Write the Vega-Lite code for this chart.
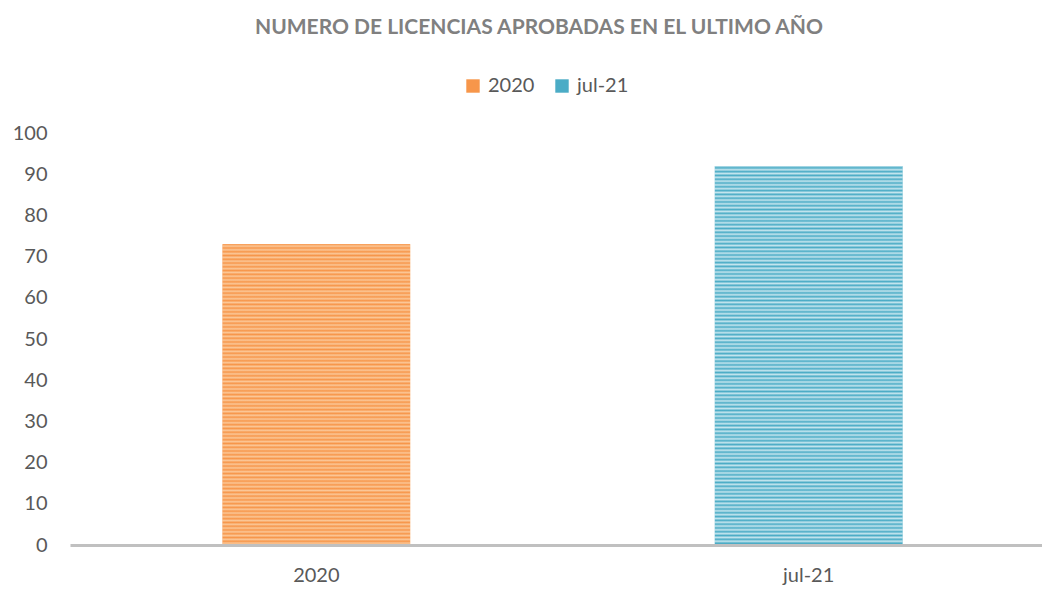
{
  "$schema": "https://vega.github.io/schema/vega-lite/v6.json",
  "width": 972,
  "height": 412,
  "autosize": "none",
  "padding": {"left": 70, "top": 133, "right": 0, "bottom": 44},
  "background": "white",
  "config": {"view": {"stroke": null}, "font": "Lato"},
  "title": {
    "text": "NUMERO DE LICENCIAS APROBADAS EN EL ULTIMO AÑO",
    "font": "Lato",
    "fontSize": 21,
    "fontWeight": "bold",
    "color": "#808080",
    "anchor": "middle",
    "frame": "group",
    "offset": 38,
    "dx": -17
  },
  "data": {"values": [
    {"periodo": "2020", "licencias": 73},
    {"periodo": "jul-21", "licencias": 92}
  ]},
  "encoding": {
    "x": {
      "field": "periodo",
      "type": "nominal",
      "sort": null,
      "scale": {"range": [0, 985], "paddingInner": 0.619, "paddingOuter": 0.31},
      "axis": {
        "title": null,
        "labelAngle": 0,
        "labelFont": "Lato",
        "labelFontSize": 20,
        "labelColor": "#595959",
        "domainColor": "#c0c0c0",
        "domainWidth": 3,
        "ticks": false,
        "labelPadding": 20,
        "zindex": 1
      }
    },
    "y": {
      "field": "licencias",
      "type": "quantitative",
      "scale": {"domain": [0, 100]},
      "axis": {
        "title": null,
        "values": [0, 10, 20, 30, 40, 50, 60, 70, 80, 90, 100],
        "grid": false,
        "domain": false,
        "ticks": false,
        "labelPadding": 23,
        "labelFont": "Lato",
        "labelFontSize": 20,
        "labelColor": "#595959"
      }
    }
  },
  "layer": [
    {
      "mark": {"type": "bar"},
      "encoding": {
        "color": {
          "field": "periodo",
          "type": "nominal",
          "scale": {"domain": ["2020", "jul-21"], "range": ["#f7964a", "#4bacc6"]},
          "legend": {
            "title": null,
            "orient": "none",
            "legendX": 393,
            "legendY": -57,
            "direction": "horizontal",
            "symbolType": "square",
            "symbolSize": 180,
            "symbolStrokeWidth": 0,
            "labelFont": "Lato",
            "labelFontSize": 20,
            "labelColor": "#595959",
            "labelOffset": 5,
            "columnPadding": 17
          }
        }
      }
    },
    {
      "transform": [{"filter": "datum.periodo === '2020'"}],
      "mark": {"type": "bar", "fill": {"gradient": "linear", "x1": 0, "y1": 0, "x2": 0, "y2": 1, "stops": [
{"offset":0,"color":"#f7964a"},{"offset":0.00625,"color":"#fbc797"},{"offset":0.0125,"color":"#f7964a"},{"offset":0.01875,"color":"#fbc797"},{"offset":0.025,"color":"#f7964a"},{"offset":0.03125,"color":"#fbc797"},{"offset":0.0375,"color":"#f7964a"},{"offset":0.04375,"color":"#fbc797"},{"offset":0.05,"color":"#f7964a"},{"offset":0.05625,"color":"#fbc797"},{"offset":0.0625,"color":"#f7964a"},{"offset":0.06875,"color":"#fbc797"},{"offset":0.075,"color":"#f7964a"},{"offset":0.08125,"color":"#fbc797"},{"offset":0.0875,"color":"#f7964a"},{"offset":0.09375,"color":"#fbc797"},
{"offset":0.1,"color":"#f7964a"},{"offset":0.10625,"color":"#fbc797"},{"offset":0.1125,"color":"#f7964a"},{"offset":0.11875,"color":"#fbc797"},{"offset":0.125,"color":"#f7964a"},{"offset":0.13125,"color":"#fbc797"},{"offset":0.1375,"color":"#f7964a"},{"offset":0.14375,"color":"#fbc797"},{"offset":0.15,"color":"#f7964a"},{"offset":0.15625,"color":"#fbc797"},{"offset":0.1625,"color":"#f7964a"},{"offset":0.16875,"color":"#fbc797"},{"offset":0.175,"color":"#f7964a"},{"offset":0.18125,"color":"#fbc797"},{"offset":0.1875,"color":"#f7964a"},{"offset":0.19375,"color":"#fbc797"},
{"offset":0.2,"color":"#f7964a"},{"offset":0.20625,"color":"#fbc797"},{"offset":0.2125,"color":"#f7964a"},{"offset":0.21875,"color":"#fbc797"},{"offset":0.225,"color":"#f7964a"},{"offset":0.23125,"color":"#fbc797"},{"offset":0.2375,"color":"#f7964a"},{"offset":0.24375,"color":"#fbc797"},{"offset":0.25,"color":"#f7964a"},{"offset":0.25625,"color":"#fbc797"},{"offset":0.2625,"color":"#f7964a"},{"offset":0.26875,"color":"#fbc797"},{"offset":0.275,"color":"#f7964a"},{"offset":0.28125,"color":"#fbc797"},{"offset":0.2875,"color":"#f7964a"},{"offset":0.29375,"color":"#fbc797"},
{"offset":0.3,"color":"#f7964a"},{"offset":0.30625,"color":"#fbc797"},{"offset":0.3125,"color":"#f7964a"},{"offset":0.31875,"color":"#fbc797"},{"offset":0.325,"color":"#f7964a"},{"offset":0.33125,"color":"#fbc797"},{"offset":0.3375,"color":"#f7964a"},{"offset":0.34375,"color":"#fbc797"},{"offset":0.35,"color":"#f7964a"},{"offset":0.35625,"color":"#fbc797"},{"offset":0.3625,"color":"#f7964a"},{"offset":0.36875,"color":"#fbc797"},{"offset":0.375,"color":"#f7964a"},{"offset":0.38125,"color":"#fbc797"},{"offset":0.3875,"color":"#f7964a"},{"offset":0.39375,"color":"#fbc797"},
{"offset":0.4,"color":"#f7964a"},{"offset":0.40625,"color":"#fbc797"},{"offset":0.4125,"color":"#f7964a"},{"offset":0.41875,"color":"#fbc797"},{"offset":0.425,"color":"#f7964a"},{"offset":0.43125,"color":"#fbc797"},{"offset":0.4375,"color":"#f7964a"},{"offset":0.44375,"color":"#fbc797"},{"offset":0.45,"color":"#f7964a"},{"offset":0.45625,"color":"#fbc797"},{"offset":0.4625,"color":"#f7964a"},{"offset":0.46875,"color":"#fbc797"},{"offset":0.475,"color":"#f7964a"},{"offset":0.48125,"color":"#fbc797"},{"offset":0.4875,"color":"#f7964a"},{"offset":0.49375,"color":"#fbc797"},
{"offset":0.5,"color":"#f7964a"},{"offset":0.50625,"color":"#fbc797"},{"offset":0.5125,"color":"#f7964a"},{"offset":0.51875,"color":"#fbc797"},{"offset":0.525,"color":"#f7964a"},{"offset":0.53125,"color":"#fbc797"},{"offset":0.5375,"color":"#f7964a"},{"offset":0.54375,"color":"#fbc797"},{"offset":0.55,"color":"#f7964a"},{"offset":0.55625,"color":"#fbc797"},{"offset":0.5625,"color":"#f7964a"},{"offset":0.56875,"color":"#fbc797"},{"offset":0.575,"color":"#f7964a"},{"offset":0.58125,"color":"#fbc797"},{"offset":0.5875,"color":"#f7964a"},{"offset":0.59375,"color":"#fbc797"},
{"offset":0.6,"color":"#f7964a"},{"offset":0.60625,"color":"#fbc797"},{"offset":0.6125,"color":"#f7964a"},{"offset":0.61875,"color":"#fbc797"},{"offset":0.625,"color":"#f7964a"},{"offset":0.63125,"color":"#fbc797"},{"offset":0.6375,"color":"#f7964a"},{"offset":0.64375,"color":"#fbc797"},{"offset":0.65,"color":"#f7964a"},{"offset":0.65625,"color":"#fbc797"},{"offset":0.6625,"color":"#f7964a"},{"offset":0.66875,"color":"#fbc797"},{"offset":0.675,"color":"#f7964a"},{"offset":0.68125,"color":"#fbc797"},{"offset":0.6875,"color":"#f7964a"},{"offset":0.69375,"color":"#fbc797"},
{"offset":0.7,"color":"#f7964a"},{"offset":0.70625,"color":"#fbc797"},{"offset":0.7125,"color":"#f7964a"},{"offset":0.71875,"color":"#fbc797"},{"offset":0.725,"color":"#f7964a"},{"offset":0.73125,"color":"#fbc797"},{"offset":0.7375,"color":"#f7964a"},{"offset":0.74375,"color":"#fbc797"},{"offset":0.75,"color":"#f7964a"},{"offset":0.75625,"color":"#fbc797"},{"offset":0.7625,"color":"#f7964a"},{"offset":0.76875,"color":"#fbc797"},{"offset":0.775,"color":"#f7964a"},{"offset":0.78125,"color":"#fbc797"},{"offset":0.7875,"color":"#f7964a"},{"offset":0.79375,"color":"#fbc797"},
{"offset":0.8,"color":"#f7964a"},{"offset":0.80625,"color":"#fbc797"},{"offset":0.8125,"color":"#f7964a"},{"offset":0.81875,"color":"#fbc797"},{"offset":0.825,"color":"#f7964a"},{"offset":0.83125,"color":"#fbc797"},{"offset":0.8375,"color":"#f7964a"},{"offset":0.84375,"color":"#fbc797"},{"offset":0.85,"color":"#f7964a"},{"offset":0.85625,"color":"#fbc797"},{"offset":0.8625,"color":"#f7964a"},{"offset":0.86875,"color":"#fbc797"},{"offset":0.875,"color":"#f7964a"},{"offset":0.88125,"color":"#fbc797"},{"offset":0.8875,"color":"#f7964a"},{"offset":0.89375,"color":"#fbc797"},
{"offset":0.9,"color":"#f7964a"},{"offset":0.90625,"color":"#fbc797"},{"offset":0.9125,"color":"#f7964a"},{"offset":0.91875,"color":"#fbc797"},{"offset":0.925,"color":"#f7964a"},{"offset":0.93125,"color":"#fbc797"},{"offset":0.9375,"color":"#f7964a"},{"offset":0.94375,"color":"#fbc797"},{"offset":0.95,"color":"#f7964a"},{"offset":0.95625,"color":"#fbc797"},{"offset":0.9625,"color":"#f7964a"},{"offset":0.96875,"color":"#fbc797"},{"offset":0.975,"color":"#f7964a"},{"offset":0.98125,"color":"#fbc797"},{"offset":0.9875,"color":"#f7964a"},{"offset":0.99375,"color":"#fbc797"},
{"offset":1,"color":"#f7964a"}
      ]}}
    },
    {
      "transform": [{"filter": "datum.periodo === 'jul-21'"}],
      "mark": {"type": "bar", "fill": {"gradient": "linear", "x1": 0, "y1": 0, "x2": 0, "y2": 1, "stops": [
{"offset":0,"color":"#c4e5ee"},{"offset":0.005,"color":"#4bacc6"},{"offset":0.01,"color":"#c4e5ee"},{"offset":0.015,"color":"#4bacc6"},{"offset":0.02,"color":"#c4e5ee"},{"offset":0.025,"color":"#4bacc6"},{"offset":0.03,"color":"#c4e5ee"},{"offset":0.035,"color":"#4bacc6"},{"offset":0.04,"color":"#c4e5ee"},{"offset":0.045,"color":"#4bacc6"},{"offset":0.05,"color":"#c4e5ee"},{"offset":0.055,"color":"#4bacc6"},{"offset":0.06,"color":"#c4e5ee"},{"offset":0.065,"color":"#4bacc6"},{"offset":0.07,"color":"#c4e5ee"},{"offset":0.075,"color":"#4bacc6"},{"offset":0.08,"color":"#c4e5ee"},{"offset":0.085,"color":"#4bacc6"},{"offset":0.09,"color":"#c4e5ee"},{"offset":0.095,"color":"#4bacc6"},
{"offset":0.1,"color":"#c4e5ee"},{"offset":0.105,"color":"#4bacc6"},{"offset":0.11,"color":"#c4e5ee"},{"offset":0.115,"color":"#4bacc6"},{"offset":0.12,"color":"#c4e5ee"},{"offset":0.125,"color":"#4bacc6"},{"offset":0.13,"color":"#c4e5ee"},{"offset":0.135,"color":"#4bacc6"},{"offset":0.14,"color":"#c4e5ee"},{"offset":0.145,"color":"#4bacc6"},{"offset":0.15,"color":"#c4e5ee"},{"offset":0.155,"color":"#4bacc6"},{"offset":0.16,"color":"#c4e5ee"},{"offset":0.165,"color":"#4bacc6"},{"offset":0.17,"color":"#c4e5ee"},{"offset":0.175,"color":"#4bacc6"},{"offset":0.18,"color":"#c4e5ee"},{"offset":0.185,"color":"#4bacc6"},{"offset":0.19,"color":"#c4e5ee"},{"offset":0.195,"color":"#4bacc6"},
{"offset":0.2,"color":"#c4e5ee"},{"offset":0.205,"color":"#4bacc6"},{"offset":0.21,"color":"#c4e5ee"},{"offset":0.215,"color":"#4bacc6"},{"offset":0.22,"color":"#c4e5ee"},{"offset":0.225,"color":"#4bacc6"},{"offset":0.23,"color":"#c4e5ee"},{"offset":0.235,"color":"#4bacc6"},{"offset":0.24,"color":"#c4e5ee"},{"offset":0.245,"color":"#4bacc6"},{"offset":0.25,"color":"#c4e5ee"},{"offset":0.255,"color":"#4bacc6"},{"offset":0.26,"color":"#c4e5ee"},{"offset":0.265,"color":"#4bacc6"},{"offset":0.27,"color":"#c4e5ee"},{"offset":0.275,"color":"#4bacc6"},{"offset":0.28,"color":"#c4e5ee"},{"offset":0.285,"color":"#4bacc6"},{"offset":0.29,"color":"#c4e5ee"},{"offset":0.295,"color":"#4bacc6"},
{"offset":0.3,"color":"#c4e5ee"},{"offset":0.305,"color":"#4bacc6"},{"offset":0.31,"color":"#c4e5ee"},{"offset":0.315,"color":"#4bacc6"},{"offset":0.32,"color":"#c4e5ee"},{"offset":0.325,"color":"#4bacc6"},{"offset":0.33,"color":"#c4e5ee"},{"offset":0.335,"color":"#4bacc6"},{"offset":0.34,"color":"#c4e5ee"},{"offset":0.345,"color":"#4bacc6"},{"offset":0.35,"color":"#c4e5ee"},{"offset":0.355,"color":"#4bacc6"},{"offset":0.36,"color":"#c4e5ee"},{"offset":0.365,"color":"#4bacc6"},{"offset":0.37,"color":"#c4e5ee"},{"offset":0.375,"color":"#4bacc6"},{"offset":0.38,"color":"#c4e5ee"},{"offset":0.385,"color":"#4bacc6"},{"offset":0.39,"color":"#c4e5ee"},{"offset":0.395,"color":"#4bacc6"},
{"offset":0.4,"color":"#c4e5ee"},{"offset":0.405,"color":"#4bacc6"},{"offset":0.41,"color":"#c4e5ee"},{"offset":0.415,"color":"#4bacc6"},{"offset":0.42,"color":"#c4e5ee"},{"offset":0.425,"color":"#4bacc6"},{"offset":0.43,"color":"#c4e5ee"},{"offset":0.435,"color":"#4bacc6"},{"offset":0.44,"color":"#c4e5ee"},{"offset":0.445,"color":"#4bacc6"},{"offset":0.45,"color":"#c4e5ee"},{"offset":0.455,"color":"#4bacc6"},{"offset":0.46,"color":"#c4e5ee"},{"offset":0.465,"color":"#4bacc6"},{"offset":0.47,"color":"#c4e5ee"},{"offset":0.475,"color":"#4bacc6"},{"offset":0.48,"color":"#c4e5ee"},{"offset":0.485,"color":"#4bacc6"},{"offset":0.49,"color":"#c4e5ee"},{"offset":0.495,"color":"#4bacc6"},
{"offset":0.5,"color":"#c4e5ee"},{"offset":0.505,"color":"#4bacc6"},{"offset":0.51,"color":"#c4e5ee"},{"offset":0.515,"color":"#4bacc6"},{"offset":0.52,"color":"#c4e5ee"},{"offset":0.525,"color":"#4bacc6"},{"offset":0.53,"color":"#c4e5ee"},{"offset":0.535,"color":"#4bacc6"},{"offset":0.54,"color":"#c4e5ee"},{"offset":0.545,"color":"#4bacc6"},{"offset":0.55,"color":"#c4e5ee"},{"offset":0.555,"color":"#4bacc6"},{"offset":0.56,"color":"#c4e5ee"},{"offset":0.565,"color":"#4bacc6"},{"offset":0.57,"color":"#c4e5ee"},{"offset":0.575,"color":"#4bacc6"},{"offset":0.58,"color":"#c4e5ee"},{"offset":0.585,"color":"#4bacc6"},{"offset":0.59,"color":"#c4e5ee"},{"offset":0.595,"color":"#4bacc6"},
{"offset":0.6,"color":"#c4e5ee"},{"offset":0.605,"color":"#4bacc6"},{"offset":0.61,"color":"#c4e5ee"},{"offset":0.615,"color":"#4bacc6"},{"offset":0.62,"color":"#c4e5ee"},{"offset":0.625,"color":"#4bacc6"},{"offset":0.63,"color":"#c4e5ee"},{"offset":0.635,"color":"#4bacc6"},{"offset":0.64,"color":"#c4e5ee"},{"offset":0.645,"color":"#4bacc6"},{"offset":0.65,"color":"#c4e5ee"},{"offset":0.655,"color":"#4bacc6"},{"offset":0.66,"color":"#c4e5ee"},{"offset":0.665,"color":"#4bacc6"},{"offset":0.67,"color":"#c4e5ee"},{"offset":0.675,"color":"#4bacc6"},{"offset":0.68,"color":"#c4e5ee"},{"offset":0.685,"color":"#4bacc6"},{"offset":0.69,"color":"#c4e5ee"},{"offset":0.695,"color":"#4bacc6"},
{"offset":0.7,"color":"#c4e5ee"},{"offset":0.705,"color":"#4bacc6"},{"offset":0.71,"color":"#c4e5ee"},{"offset":0.715,"color":"#4bacc6"},{"offset":0.72,"color":"#c4e5ee"},{"offset":0.725,"color":"#4bacc6"},{"offset":0.73,"color":"#c4e5ee"},{"offset":0.735,"color":"#4bacc6"},{"offset":0.74,"color":"#c4e5ee"},{"offset":0.745,"color":"#4bacc6"},{"offset":0.75,"color":"#c4e5ee"},{"offset":0.755,"color":"#4bacc6"},{"offset":0.76,"color":"#c4e5ee"},{"offset":0.765,"color":"#4bacc6"},{"offset":0.77,"color":"#c4e5ee"},{"offset":0.775,"color":"#4bacc6"},{"offset":0.78,"color":"#c4e5ee"},{"offset":0.785,"color":"#4bacc6"},{"offset":0.79,"color":"#c4e5ee"},{"offset":0.795,"color":"#4bacc6"},
{"offset":0.8,"color":"#c4e5ee"},{"offset":0.805,"color":"#4bacc6"},{"offset":0.81,"color":"#c4e5ee"},{"offset":0.815,"color":"#4bacc6"},{"offset":0.82,"color":"#c4e5ee"},{"offset":0.825,"color":"#4bacc6"},{"offset":0.83,"color":"#c4e5ee"},{"offset":0.835,"color":"#4bacc6"},{"offset":0.84,"color":"#c4e5ee"},{"offset":0.845,"color":"#4bacc6"},{"offset":0.85,"color":"#c4e5ee"},{"offset":0.855,"color":"#4bacc6"},{"offset":0.86,"color":"#c4e5ee"},{"offset":0.865,"color":"#4bacc6"},{"offset":0.87,"color":"#c4e5ee"},{"offset":0.875,"color":"#4bacc6"},{"offset":0.88,"color":"#c4e5ee"},{"offset":0.885,"color":"#4bacc6"},{"offset":0.89,"color":"#c4e5ee"},{"offset":0.895,"color":"#4bacc6"},
{"offset":0.9,"color":"#c4e5ee"},{"offset":0.905,"color":"#4bacc6"},{"offset":0.91,"color":"#c4e5ee"},{"offset":0.915,"color":"#4bacc6"},{"offset":0.92,"color":"#c4e5ee"},{"offset":0.925,"color":"#4bacc6"},{"offset":0.93,"color":"#c4e5ee"},{"offset":0.935,"color":"#4bacc6"},{"offset":0.94,"color":"#c4e5ee"},{"offset":0.945,"color":"#4bacc6"},{"offset":0.95,"color":"#c4e5ee"},{"offset":0.955,"color":"#4bacc6"},{"offset":0.96,"color":"#c4e5ee"},{"offset":0.965,"color":"#4bacc6"},{"offset":0.97,"color":"#c4e5ee"},{"offset":0.975,"color":"#4bacc6"},{"offset":0.98,"color":"#c4e5ee"},{"offset":0.985,"color":"#4bacc6"},{"offset":0.99,"color":"#c4e5ee"},{"offset":0.995,"color":"#4bacc6"},
{"offset":1,"color":"#4bacc6"}
      ]}}
    }
  ]
}
